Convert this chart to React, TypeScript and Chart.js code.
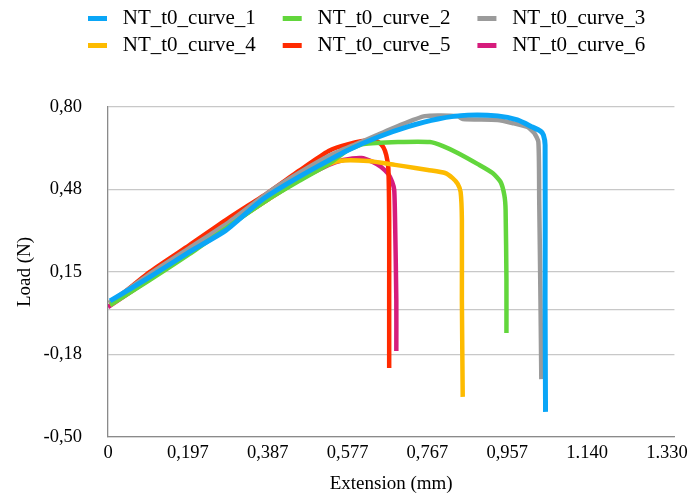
import { useEffect, useRef } from 'react';
import { Chart, registerables } from 'chart.js';

Chart.register(...registerables);

// Series names and colours
const SERIES_NAMES = [
  'NT_t0_curve_1',
  'NT_t0_curve_2',
  'NT_t0_curve_3',
  'NT_t0_curve_4',
  'NT_t0_curve_5',
  'NT_t0_curve_6',
];
const SERIES_COLORS = ['#0aa6f7', '#62d63c', '#9b9b9b', '#fdbb00', '#ff2a00', '#d61c7c'];
const SERIES_WIDTHS = [5, 4.5, 4.5, 4.5, 4.5, 4.5];

// Extension (mm) / Load (N) samples for each specimen
const curve1Ext = [0.005, 0.099, 0.194, 0.281, 0.366, 0.43, 0.501, 0.572, 0.643, 0.714, 0.785, 0.856, 0.927, 0.974, 1.01, 1.029, 1.036, 1.04, 1.04, 1.041];
const curve1Load = [0.036, 0.13, 0.229, 0.315, 0.434, 0.501, 0.568, 0.631, 0.682, 0.723, 0.753, 0.768, 0.765, 0.749, 0.721, 0.705, 0.69, 0.65, 0.04, -0.401];

const curve2Ext = [0.005, 0.099, 0.194, 0.288, 0.383, 0.454, 0.525, 0.572, 0.608, 0.69, 0.766, 0.797, 0.832, 0.88, 0.915, 0.934, 0.943, 0.946, 0.948, 0.948];
const curve2Load = [0.02, 0.118, 0.221, 0.331, 0.438, 0.508, 0.575, 0.631, 0.654, 0.662, 0.662, 0.646, 0.619, 0.575, 0.54, 0.505, 0.453, 0.394, 0.118, -0.09];

const curve3Ext = [0.002, 0.099, 0.194, 0.288, 0.383, 0.454, 0.525, 0.596, 0.69, 0.754, 0.832, 0.844, 0.927, 0.962, 0.998, 1.014, 1.024, 1.026, 1.029, 1.031];
const curve3Load = [0.028, 0.142, 0.245, 0.347, 0.465, 0.54, 0.607, 0.658, 0.725, 0.764, 0.764, 0.753, 0.749, 0.737, 0.721, 0.698, 0.662, 0.434, 0.04, -0.272];

const curve4Ext = [0.005, 0.099, 0.194, 0.288, 0.383, 0.454, 0.501, 0.549, 0.619, 0.683, 0.731, 0.761, 0.802, 0.82, 0.832, 0.839, 0.842, 0.842, 0.844];
const curve4Load = [0.02, 0.122, 0.229, 0.335, 0.438, 0.512, 0.556, 0.587, 0.587, 0.572, 0.56, 0.552, 0.54, 0.52, 0.497, 0.465, 0.355, 0.04, -0.342];

const curve5Ext = [0.005, 0.099, 0.194, 0.288, 0.383, 0.454, 0.525, 0.572, 0.627, 0.643, 0.655, 0.662, 0.667, 0.669, 0.669, 0.669];
const curve5Load = [0.024, 0.15, 0.256, 0.363, 0.465, 0.548, 0.627, 0.654, 0.67, 0.662, 0.642, 0.611, 0.56, 0.355, 0.04, -0.228];

const curve6Ext = [0.0, 0.099, 0.194, 0.288, 0.383, 0.454, 0.525, 0.56, 0.603, 0.631, 0.65, 0.667, 0.676, 0.681, 0.683, 0.686, 0.686];
const curve6Load = [0.012, 0.122, 0.229, 0.335, 0.438, 0.512, 0.572, 0.591, 0.599, 0.583, 0.564, 0.536, 0.505, 0.473, 0.355, 0.04, -0.161];

const SERIES_EXT = [curve1Ext, curve2Ext, curve3Ext, curve4Ext, curve5Ext, curve6Ext];
const SERIES_LOAD = [curve1Load, curve2Load, curve3Load, curve4Load, curve5Load, curve6Load];

// Axis ticks
const xTickValues = [0, 0.19, 0.38, 0.57, 0.76, 0.95, 1.14, 1.33];
const xTickLabels = ['0', '0,197', '0,387', '0,577', '0,767', '0,957', '1.140', '1.330'];
const yTickValues = [-0.5, -0.175, 0, 0.15, 0.475, 0.8];
const yTickLabels = ['-0,50', '-0,18', '', '0,15', '0,48', '0,80'];

const X_MIN = 0;
const X_MAX = 1.3477;
const Y_MIN = -0.5;
const Y_MAX = 0.8;

const FONT_FAMILY = "'Liberation Serif', 'Times New Roman', serif";

// Places the legend block in the top band, left-aligned to its column grid
const legendPlacement = {
  id: 'legendPlacement',
  afterLayout(chart: any) {
    const legend = chart.legend;
    if (!legend) return;
    const h = legend.height;
    legend.left = 82;
    legend.right = 760;
    legend.top = 2;
    legend.bottom = 2 + h;
  },
};

export default function App() {
  const canvasRef = useRef<HTMLCanvasElement | null>(null);

  useEffect(() => {
    const canvas = canvasRef.current;
    if (!canvas) return;

    Chart.defaults.font.family = FONT_FAMILY;
    Chart.defaults.color = '#000';

    const datasets = SERIES_NAMES.map((name, i) => ({
      label: name,
      data: SERIES_EXT[i].map((x, k) => ({ x, y: SERIES_LOAD[i][k] })),
      borderColor: SERIES_COLORS[i],
      backgroundColor: SERIES_COLORS[i],
      borderWidth: SERIES_WIDTHS[i],
      borderCapStyle: 'butt' as const,
      borderJoinStyle: 'round' as const,
      pointRadius: 0,
      tension: 0.2,
      fill: false,
    }));

    const chart = new Chart(canvas, {
      type: 'line',
      data: { datasets },
      plugins: [legendPlacement],
      options: {
        responsive: false,
        animation: false,
        events: [],
        layout: { padding: { top: 43, left: 10, right: 15, bottom: 0 } },
        plugins: {
          tooltip: { enabled: false },
          legend: {
            display: true,
            position: 'top',
            align: 'start',
            labels: {
              font: { size: 21, family: FONT_FAMILY },
              color: '#000',
              boxWidth: 19,
              boxHeight: 5,
              padding: 6,
              generateLabels: (ch: any) =>
                Chart.defaults.plugins.legend.labels.generateLabels(ch).map((item: any, i: number) => ({
                  ...item,
                  text: ' ' + item.text + '    ',
                  fillStyle: SERIES_COLORS[i],
                  strokeStyle: SERIES_COLORS[i],
                  lineWidth: 0,
                })),
            },
          },
        },
        scales: {
          x: {
            type: 'linear',
            min: X_MIN,
            max: X_MAX,
            afterBuildTicks: (s: any) => {
              s.ticks = xTickValues.map((v) => ({ value: v }));
            },
            afterFit: (s: any) => {
              s.height = 58;
            },
            ticks: {
              autoSkip: false,
              maxRotation: 0,
              padding: 5,
              color: '#000',
              font: { size: 18.5, family: FONT_FAMILY },
              callback: (_v: any, i: number) => xTickLabels[i],
            },
            grid: { display: false, drawTicks: false },
            border: { display: true, color: '#8a8a8a', width: 1.3 },
            title: {
              display: true,
              text: 'Extension (mm)',
              color: '#000',
              font: { size: 19, family: FONT_FAMILY },
              padding: { top: 0, bottom: 0 },
            },
          },
          y: {
            type: 'linear',
            min: Y_MIN,
            max: Y_MAX,
            afterBuildTicks: (s: any) => {
              s.ticks = yTickValues.map((v) => ({ value: v }));
            },
            afterFit: (s: any) => {
              s.width = 98;
            },
            ticks: {
              autoSkip: false,
              padding: 26,
              color: '#000',
              font: { size: 18.5, family: FONT_FAMILY },
              callback: (_v: any, i: number) => yTickLabels[i],
            },
            grid: { color: '#c8c8c8', lineWidth: 1.3, drawTicks: false },
            border: { display: true, color: '#8a8a8a', width: 1.3 },
            title: {
              display: true,
              text: 'Load (N)',
              color: '#000',
              font: { size: 19, family: FONT_FAMILY },
              padding: { top: 3.6, bottom: 0 },
            },
          },
        },
      },
    });

    return () => chart.destroy();
  }, []);

  return (
    <div style={{ position: 'absolute', left: 0, top: 0, width: 693, height: 495, background: '#fff' }}>
      <canvas ref={canvasRef} width={693} height={495} style={{ display: 'block' }} />
    </div>
  );
}
